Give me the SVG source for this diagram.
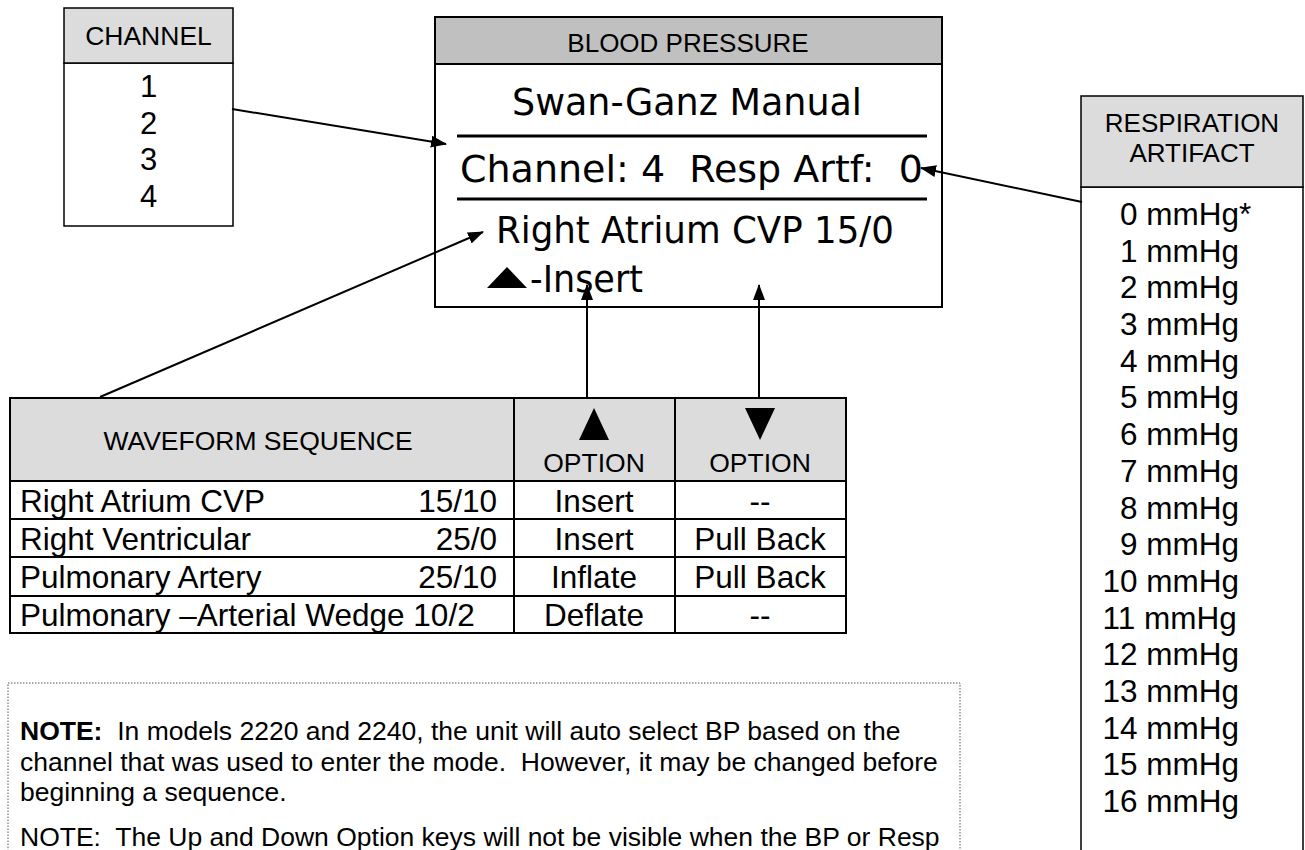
<svg xmlns="http://www.w3.org/2000/svg" width="1305" height="850" viewBox="0 0 1305 850">
<style>
.s{font-family:"Liberation Sans",Arial,sans-serif;fill:#000}
.lcd{font-family:"DejaVu Sans",sans-serif;fill:#000}
.box{fill:#fff;stroke:#000;stroke-width:1.5}
.hd{fill:#dcdcdc;stroke:#000;stroke-width:1.5}
.cn{stroke:#000;stroke-width:2;fill:none}
.tl{stroke:#000;stroke-width:2}
</style>
<defs>
<marker id="ah" markerUnits="userSpaceOnUse" markerWidth="16" markerHeight="12" refX="15" refY="6" orient="auto">
<path d="M0,0 L16,6 L0,12 Z" fill="#000"/>
</marker>
</defs>
<rect width="1305" height="850" fill="#fff"/>

<g id="channel">
<rect class="box" x="64" y="63" width="169" height="163"/>
<rect class="hd" x="64" y="8" width="169" height="55"/>
<text class="s" x="148.5" y="45" font-size="26.5" text-anchor="middle">CHANNEL</text>
<g class="s" font-size="31" text-anchor="middle">
<text x="148.5" y="97">1</text>
<text x="148.5" y="134">2</text>
<text x="148.5" y="170">3</text>
<text x="148.5" y="207">4</text>
</g>
</g>

<g id="blood-pressure">
<rect x="435" y="17" width="507" height="290" fill="#fff" stroke="#000" stroke-width="2"/>
<rect x="435" y="17" width="507" height="47" fill="#c0c0c0" stroke="#000" stroke-width="2"/>
<text class="s" x="688" y="52" font-size="26" text-anchor="middle">BLOOD PRESSURE</text>
<text class="lcd" x="512" y="115" font-size="38" textLength="350" lengthAdjust="spacingAndGlyphs">Swan-Ganz Manual</text>
<line x1="457" y1="136" x2="927" y2="136" stroke="#000" stroke-width="3"/>
<text class="lcd" x="460" y="182" font-size="38" textLength="463" lengthAdjust="spacingAndGlyphs" xml:space="preserve">Channel: 4  Resp Artf:  0</text>
<line x1="457" y1="199" x2="927" y2="199" stroke="#000" stroke-width="3"/>
<text class="lcd" x="496" y="243" font-size="38" textLength="398" lengthAdjust="spacingAndGlyphs">Right Atrium CVP 15/0</text>
<path d="M487,288 L507,267 L527,288 Z" fill="#000"/>
<text class="lcd" x="530" y="292" font-size="38" textLength="113" lengthAdjust="spacingAndGlyphs">-Insert</text>
</g>

<g id="respiration-artifact">
<rect class="box" x="1081" y="187" width="222" height="690"/>
<rect class="hd" x="1081" y="96" width="222" height="91"/>
<text class="s" x="1192" y="132" font-size="26" text-anchor="middle">RESPIRATION</text>
<text class="s" x="1192" y="162" font-size="26" text-anchor="middle">ARTIFACT</text>
<g class="s" font-size="31.5">
<text x="1120" y="225">0 mmHg*</text>
<text x="1120" y="262">1 mmHg</text>
<text x="1120" y="298">2 mmHg</text>
<text x="1120" y="335">3 mmHg</text>
<text x="1120" y="372">4 mmHg</text>
<text x="1120" y="408">5 mmHg</text>
<text x="1120" y="445">6 mmHg</text>
<text x="1120" y="482">7 mmHg</text>
<text x="1120" y="519">8 mmHg</text>
<text x="1120" y="555">9 mmHg</text>
<text x="1102.5" y="592">10 mmHg</text>
<text x="1102.5" y="629">11 mmHg</text>
<text x="1102.5" y="665">12 mmHg</text>
<text x="1102.5" y="702">13 mmHg</text>
<text x="1102.5" y="739">14 mmHg</text>
<text x="1102.5" y="775">15 mmHg</text>
<text x="1102.5" y="812">16 mmHg</text>
</g>
</g>

<g id="waveform-table">
<rect x="10" y="398" width="836" height="83" fill="#dcdcdc" stroke="#000" stroke-width="2"/>
<rect x="10" y="481" width="836" height="152" fill="#fff" stroke="#000" stroke-width="2"/>
<line class="tl" x1="10" y1="519" x2="846" y2="519"/>
<line class="tl" x1="10" y1="557" x2="846" y2="557"/>
<line class="tl" x1="10" y1="596" x2="846" y2="596"/>
<line class="tl" x1="514" y1="398" x2="514" y2="633"/>
<line class="tl" x1="675" y1="398" x2="675" y2="633"/>
<text class="s" x="258" y="450" font-size="26.5" text-anchor="middle">WAVEFORM SEQUENCE</text>
<path d="M579,440 L594,408 L609,440 Z" fill="#000"/>
<text class="s" x="594" y="472" font-size="26.5" text-anchor="middle">OPTION</text>
<path d="M745,408 L775,408 L760,440 Z" fill="#000"/>
<text class="s" x="760" y="472" font-size="26.5" text-anchor="middle">OPTION</text>
<g class="s" font-size="31.5">
<text x="20" y="512">Right Atrium CVP</text>
<text x="497" y="512" text-anchor="end">15/10</text>
<text x="594" y="512" text-anchor="middle">Insert</text>
<text x="760" y="512" text-anchor="middle">--</text>
<text x="20" y="550">Right Ventricular</text>
<text x="497" y="550" text-anchor="end">25/0</text>
<text x="594" y="550" text-anchor="middle">Insert</text>
<text x="760" y="550" text-anchor="middle">Pull Back</text>
<text x="20" y="588">Pulmonary Artery</text>
<text x="497" y="588" text-anchor="end">25/10</text>
<text x="594" y="588" text-anchor="middle">Inflate</text>
<text x="760" y="588" text-anchor="middle">Pull Back</text>
<text x="20" y="626">Pulmonary –Arterial Wedge 10/2</text>
<text x="594" y="626" text-anchor="middle">Deflate</text>
<text x="760" y="626" text-anchor="middle">--</text>
</g>
</g>

<g id="note">
<rect x="8" y="683" width="952" height="200" fill="none" stroke="#555" stroke-width="1" stroke-dasharray="1.5,1.5"/>
<g class="s" font-size="26.5">
<text x="20" y="740" xml:space="preserve"><tspan font-weight="bold">NOTE:</tspan>  In models 2220 and 2240, the unit will auto select BP based on the</text>
<text x="20" y="771" xml:space="preserve">channel that was used to enter the mode.  However, it may be changed before</text>
<text x="20" y="801">beginning a sequence.</text>
<text x="20" y="846" xml:space="preserve">NOTE:  The Up and Down Option keys will not be visible when the BP or Resp</text>
</g>
</g>

<g id="connectors">
<line class="cn" x1="232" y1="109" x2="446" y2="144" marker-end="url(#ah)"/>
<line class="cn" x1="100" y1="397" x2="483" y2="232" marker-end="url(#ah)"/>
<line class="cn" x1="587" y1="397" x2="587" y2="285" marker-end="url(#ah)"/>
<line class="cn" x1="759" y1="397" x2="759" y2="285" marker-end="url(#ah)"/>
<line class="cn" x1="1082" y1="202" x2="921" y2="168" marker-end="url(#ah)"/>
</g>
</svg>
